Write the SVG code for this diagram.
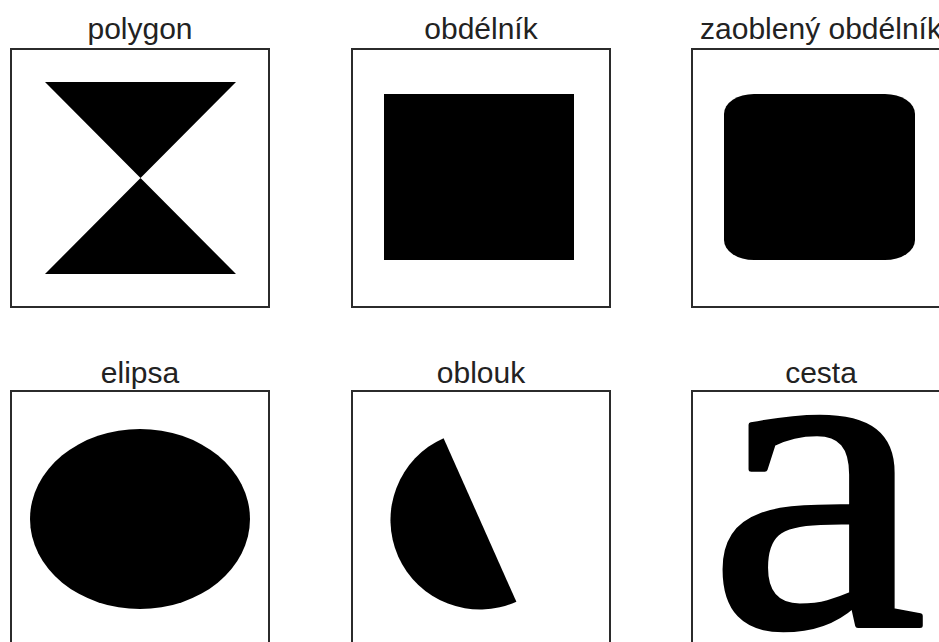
<svg xmlns="http://www.w3.org/2000/svg" width="939" height="642" viewBox="0 0 939 642">
<style>
.frame{fill:none;stroke:#2b2b2b;stroke-width:2}
.lbl{font-family:"Liberation Sans",Arial,sans-serif;font-size:30px;fill:#222;text-anchor:middle}
.shape{fill:#000}
.glyph{font-family:"Liberation Serif","Times New Roman",serif;font-size:444px;fill:#000;stroke:#000;stroke-width:5;stroke-linejoin:round}
</style>
<rect x="0" y="0" width="939" height="642" fill="#fff"/>
<g id="polygon">
<rect class="frame" x="11" y="49" width="258" height="258"/>
<text class="lbl" x="140" y="39">polygon</text>
<polygon class="shape" points="45,82 236,82 45,274 236,274"/>
</g>
<g id="obdelnik">
<rect class="frame" x="352" y="49" width="258" height="258"/>
<text class="lbl" x="481" y="39">obdélník</text>
<rect class="shape" x="384" y="94" width="190" height="166"/>
</g>
<g id="zaobleny-obdelnik">
<rect class="frame" x="692" y="49" width="258" height="258"/>
<text class="lbl" x="821" y="39">zaoblený obdélník</text>
<rect class="shape" x="724" y="94" width="191" height="166" rx="30" ry="20"/>
</g>
<g id="elipsa">
<rect class="frame" x="11" y="391" width="258" height="258"/>
<text class="lbl" x="140" y="383">elipsa</text>
<ellipse class="shape" cx="140" cy="519" rx="110" ry="90"/>
</g>
<g id="oblouk">
<rect class="frame" x="352" y="391" width="258" height="258"/>
<text class="lbl" x="481" y="383">oblouk</text>
<path class="shape" d="M443.6 438.2 A89.5 89.5 0 0 0 516.4 601.8 Z"/>
</g>
<g id="cesta">
<rect class="frame" x="692" y="391" width="258" height="258"/>
<text class="lbl" x="821" y="383">cesta</text>
<text class="glyph" x="0" y="0" transform="translate(708,625.5) scale(1.11,1)">a</text>
</g>
<g id="connectors"/>
</svg>
